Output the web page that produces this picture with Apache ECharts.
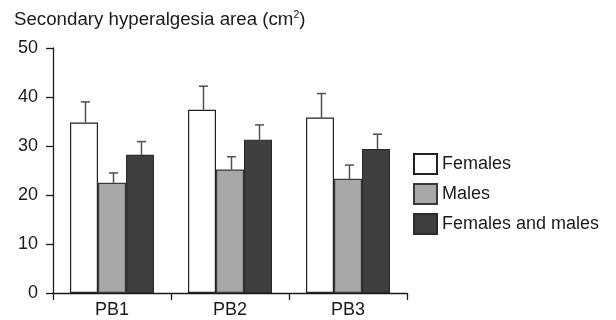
<!DOCTYPE html>
<html><head><meta charset="utf-8">
<script src="https://cdn.jsdelivr.net/npm/echarts@6/dist/echarts.min.js"></script>
<style>html,body{margin:0;padding:0;background:#fff}#c{width:616px;height:320px}</style>
</head><body><div id="c"></div>
<script>
const categories = ['PB1', 'PB2', 'PB3'];
const seriesNames = ['Females', 'Males', 'Females and males'];
const females = [34.8, 37.4, 35.8];
const femalesErr = [4.2, 4.8, 4.9];
const males = [22.5, 25.2, 23.3];
const malesErr = [2.0, 2.6, 2.8];
const both = [28.2, 31.3, 29.4];
const bothErr = [2.7, 3.0, 3.0];
const yTicks = [0, 10, 20, 30, 40, 50];

const values = [females, males, both];
const errors = [femalesErr, malesErr, bothErr];
const colors = ['#ffffff', '#a8a8a8', '#3e403f'];
const borders = ['#222222', '#3a3a3a', '#2a2a2a'];
const BW = 28;
const FONT = 'Liberation Sans, Arial, sans-serif';

const chart = echarts.init(document.getElementById('c'), null, {renderer: 'canvas'});

const errData = [];
for (let s = 0; s < 3; s++) for (let i = 0; i < categories.length; i++) {
  errData.push([i, values[s][i], values[s][i] + errors[s][i], s]);
}

const series = values.map((v, s) => ({
  name: seriesNames[s], type: 'bar', data: v, barWidth: BW, barGap: '0%',
  itemStyle: {color: colors[s], borderColor: borders[s], borderWidth: 1.2},
  emphasis: {disabled: true}, silent: true
}));
series.push({
  type: 'custom', silent: true, z: 1,
  renderItem: function (params, api) {
    const i = api.value(0), s = api.value(3);
    const p0 = api.coord([i, api.value(1)]);
    const p1 = api.coord([i, api.value(2)]);
    const x = p0[0] + (s - 1) * BW + 1.5;
    const st = {stroke: '#505050', lineWidth: 1.5};
    return {type: 'group', children: [
      {type: 'line', shape: {x1: x, y1: p0[1], x2: x, y2: p1[1]}, style: st},
      {type: 'line', shape: {x1: x - 4.5, y1: p1[1], x2: x + 4.5, y2: p1[1]}, style: st}
    ]};
  },
  encode: {x: 0, y: 2},
  data: errData
});

chart.setOption({
  animation: false,
  backgroundColor: '#ffffff',
  textStyle: {fontFamily: FONT},
  title: {
    text: '{a|Secondary hyperalgesia area (cm}{s|2}{a|)}',
    left: 14, top: 10, padding: 0,
    textStyle: {fontWeight: 'normal', rich: {
      a: {fontSize: 18.7, color: '#1a1a1a', fontFamily: FONT, fontWeight: 'normal'},
      s: {fontSize: 10.5, color: '#1a1a1a', fontFamily: FONT, fontWeight: 'normal', verticalAlign: 'top', padding: [0, 0, 7, 0]}
    }}
  },
  legend: {
    orient: 'vertical', left: 413, top: 153, padding: 0, itemWidth: 23, itemHeight: 20, itemGap: 8,
    icon: 'rect', selectedMode: false,
    data: seriesNames,
    textStyle: {fontSize: 18, color: '#1a1a1a', fontFamily: FONT, padding: [0, 0, 0, 0]}
  },
  grid: {left: 53, right: 209, top: 48, bottom: 27, containLabel: false},
  xAxis: {
    type: 'category', data: categories,
    axisLine: {lineStyle: {color: '#1a1a1a', width: 1.3}},
    axisTick: {show: true, length: 7, lineStyle: {color: '#1a1a1a', width: 1.3},
      interval: 0},
    axisLabel: {fontSize: 18, color: '#1a1a1a', margin: 8, fontFamily: FONT}
  },
  yAxis: {
    type: 'value', min: 0, max: 50, interval: 10,
    axisLine: {show: true, lineStyle: {color: '#1a1a1a', width: 1.3}},
    axisTick: {show: true, length: 7, lineStyle: {color: '#1a1a1a', width: 1.3}},
    splitLine: {show: false},
    axisLabel: {fontSize: 18, color: '#1a1a1a', margin: 15, fontFamily: FONT,
      formatter: function (v) { return yTicks.indexOf(v) >= 0 ? String(v) : ''; }}
  },
  series: series
});
</script></body></html>
